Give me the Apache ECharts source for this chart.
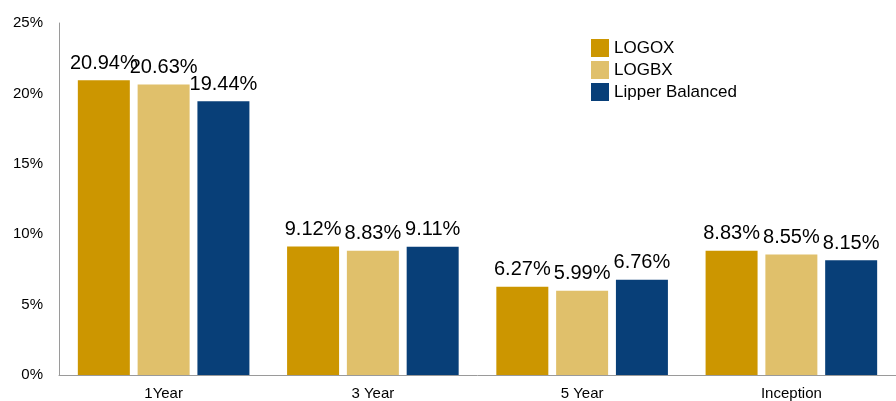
<!DOCTYPE html>
<html>
<head>
<meta charset="utf-8">
<script src="https://cdn.jsdelivr.net/npm/echarts@6/dist/echarts.min.js"></script>
<style>
  html, body { margin: 0; padding: 0; background: #fff; }
  #chart { width: 896px; height: 401px; }
</style>
</head>
<body>
<div id="chart"></div>
<script>
let categories = ['1Year', '3 Year', '5 Year', 'Inception'];
let logox = [20.94, 9.12, 6.27, 8.83];
let logbx = [20.63, 8.83, 5.99, 8.55];
let lipper = [19.44, 9.11, 6.76, 8.15];
let seriesNames = ['LOGOX', 'LOGBX', 'Lipper Balanced'];
let colors = ['#CC9600', '#E0C06B', '#083F78'];

let font = 'Liberation Sans, Arial, sans-serif';

function makeSeries(name, data, color) {
    return {
        name: name,
        type: 'bar',
        data: data,
        barGap: '15%',
        barCategoryGap: '18%',
        itemStyle: {
            color: color,
        },
        label: {
            show: true,
            position: 'top',
            distance: 7,
            color: '#000',
            fontFamily: font,
            fontSize: 20,
            formatter: function (p) {
                return p.value.toFixed(2) + '%';
            },
        },
    };
}

let chart = echarts.init(document.getElementById('chart'));
chart.setOption({
    animation: false,
    textStyle: { fontFamily: font },
    grid: {
        left: 59,
        right: 0,
        top: 23,
        bottom: 26,
        containLabel: false,
    },
    legend: {
        orient: 'vertical',
        left: 586,
        top: 34,
        itemWidth: 18,
        itemHeight: 18,
        itemGap: 4,
        icon: 'rect',
        textStyle: {
            fontFamily: font,
            fontSize: 17,
            color: '#000',
        },
        data: seriesNames,
    },
    xAxis: {
        type: 'category',
        data: categories,
        axisLine: { lineStyle: { color: '#9a9a9a', width: 1 } },
        axisTick: { show: false },
        axisLabel: {
            color: '#000',
            fontSize: 15,
            margin: 11,
            fontFamily: font,
        },
    },
    yAxis: {
        type: 'value',
        min: 0,
        max: 25,
        interval: 5,
        splitLine: { show: false },
        axisLine: { show: true, lineStyle: { color: '#9a9a9a', width: 1 } },
        axisTick: { show: false },
        axisLabel: {
            color: '#000',
            fontSize: 15,
            margin: 16,
            fontFamily: font,
            formatter: '{value}%',
        },
    },
    series: [
        makeSeries(seriesNames[0], logox, colors[0]),
        makeSeries(seriesNames[1], logbx, colors[1]),
        makeSeries(seriesNames[2], lipper, colors[2]),
    ],
});
</script>
</body>
</html>
